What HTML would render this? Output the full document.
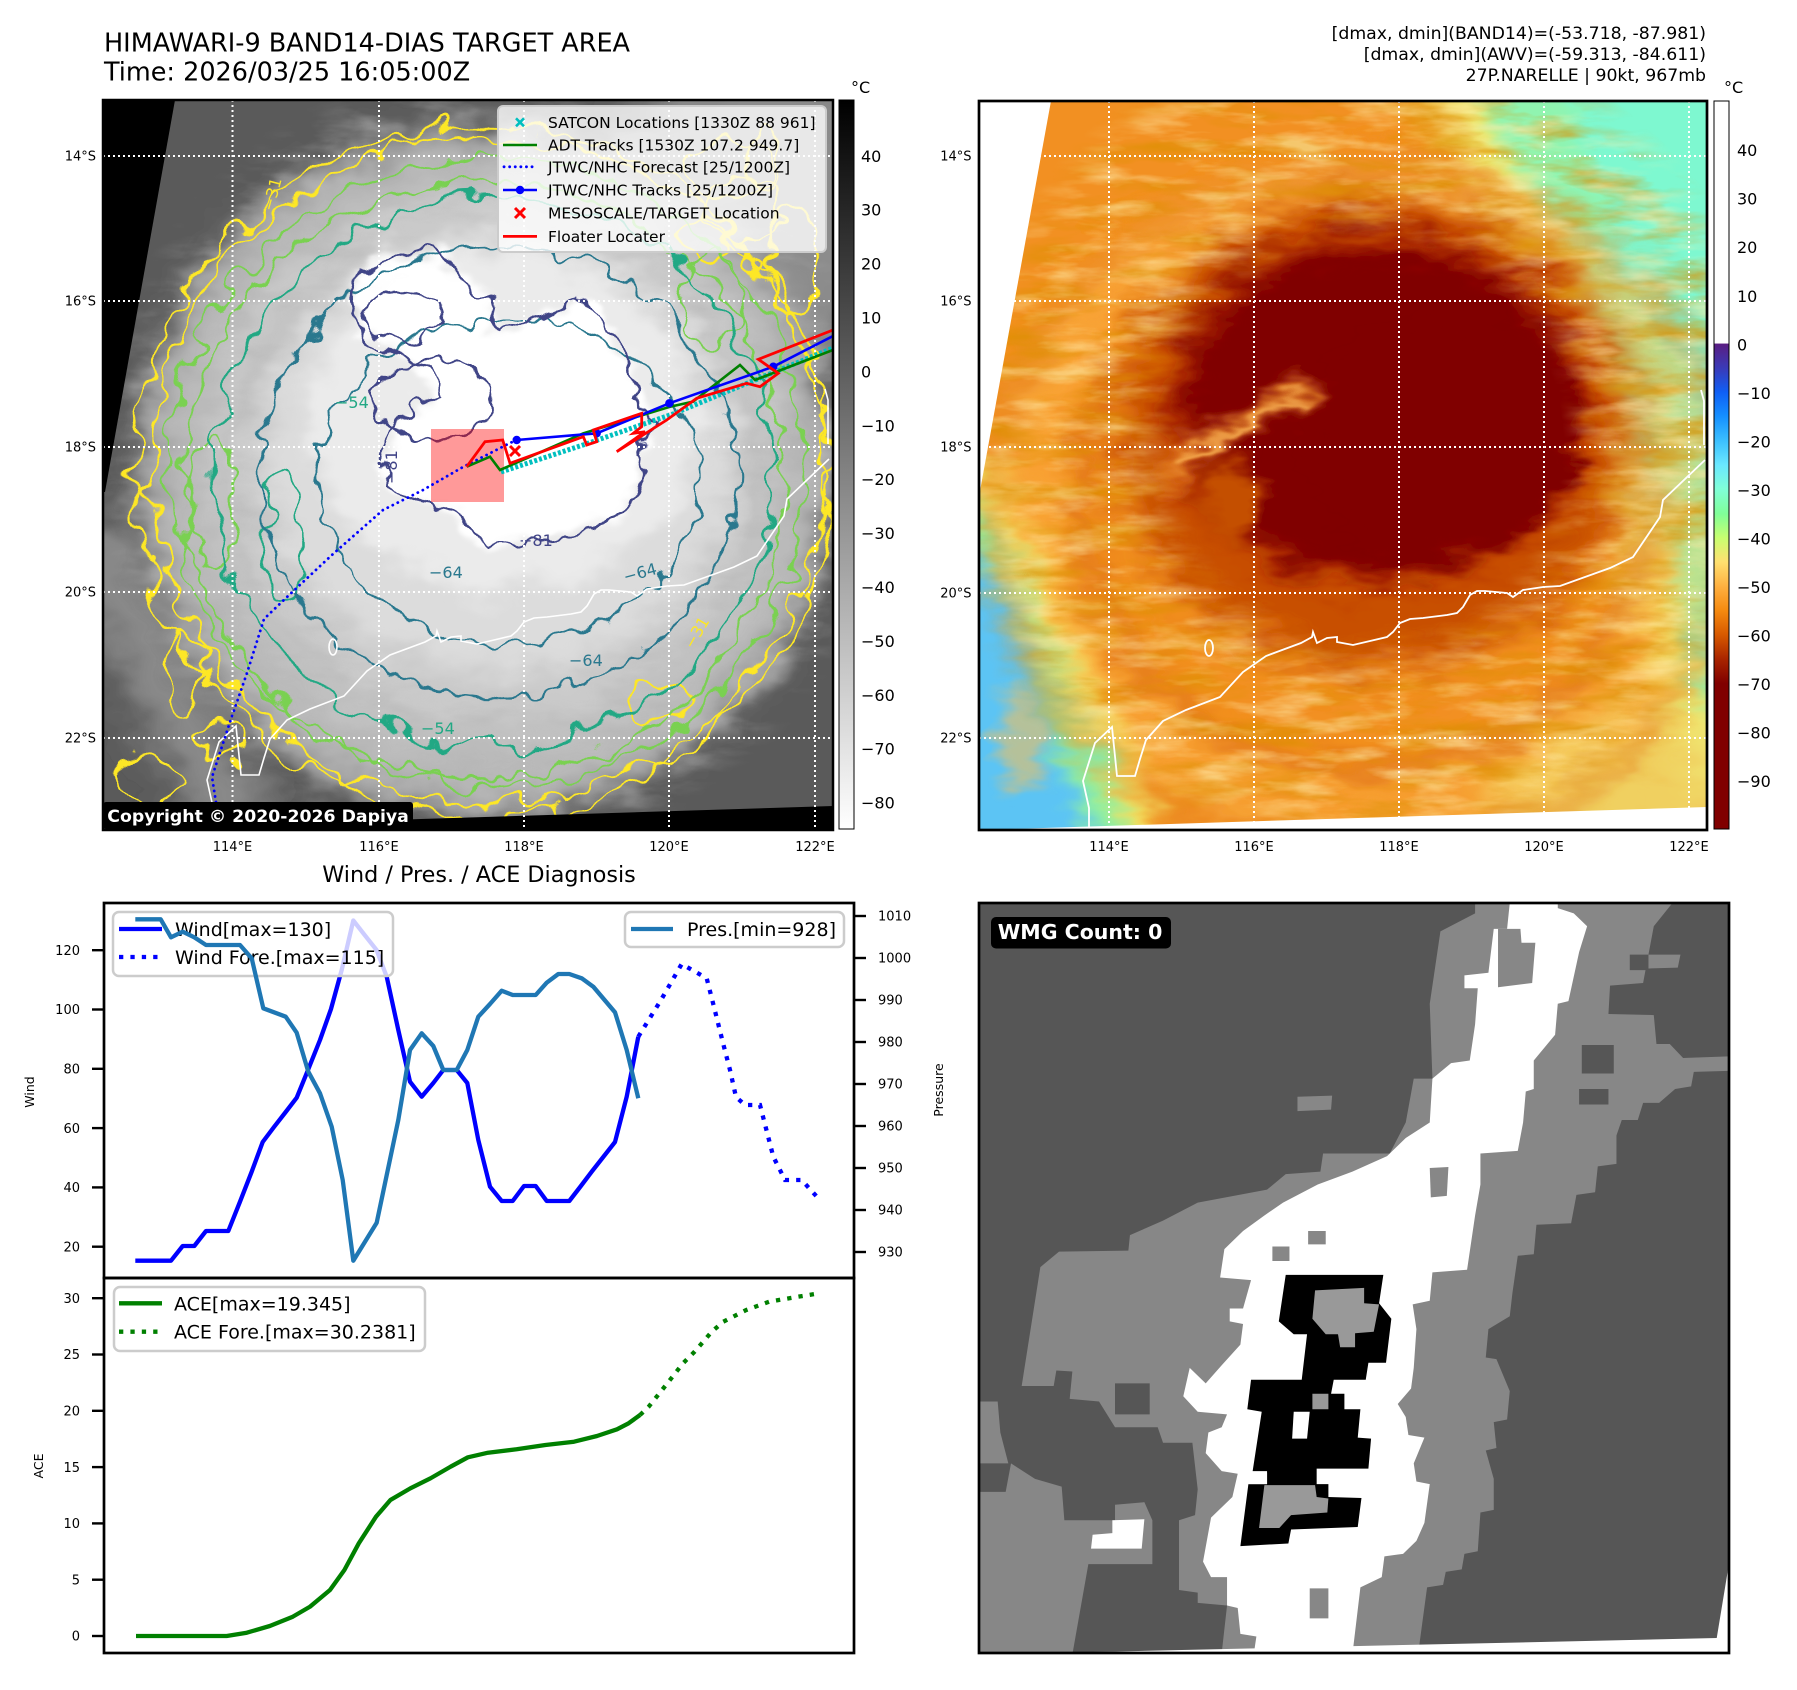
<!DOCTYPE html>
<html><head><meta charset="utf-8">
<style>
html,body{margin:0;padding:0;background:#fff;}
svg{display:block;font-family:"DejaVu Sans","Liberation Sans",sans-serif;}
</style></head>
<body>
<svg xmlns="http://www.w3.org/2000/svg" width="1797" height="1690" viewBox="0 0 1797 1690">
<defs>
  <clipPath id="clipL"><rect x="0" y="0" width="730" height="730"/></clipPath>
  <clipPath id="clipR"><rect x="0" y="0" width="728" height="729"/></clipPath>
  <filter id="bl4" x="-20%" y="-20%" width="140%" height="140%"><feGaussianBlur stdDeviation="4"/></filter>
  <filter id="bl8" x="-20%" y="-20%" width="140%" height="140%"><feGaussianBlur stdDeviation="8"/></filter>
  <filter id="bl12" x="-20%" y="-20%" width="140%" height="140%"><feGaussianBlur stdDeviation="12"/></filter>
  <filter id="bl18" x="-20%" y="-20%" width="140%" height="140%"><feGaussianBlur stdDeviation="18"/></filter>
  <filter id="bl25" x="-30%" y="-30%" width="160%" height="160%"><feGaussianBlur stdDeviation="25"/></filter>
  <filter id="dispL" x="-5%" y="-5%" width="110%" height="110%">
    <feTurbulence type="fractalNoise" baseFrequency="0.02 0.03" numOctaves="3" seed="7" result="t"/>
    <feDisplacementMap in="SourceGraphic" in2="t" scale="45" xChannelSelector="R" yChannelSelector="G"/>
  </filter>
  <filter id="dispR" x="-5%" y="-5%" width="110%" height="110%">
    <feTurbulence type="fractalNoise" baseFrequency="0.018 0.045" numOctaves="3" seed="4" result="t"/>
    <feDisplacementMap in="SourceGraphic" in2="t" scale="50" xChannelSelector="R" yChannelSelector="G"/>
  </filter>
  <filter id="streakDark" x="0" y="0" width="100%" height="100%">
    <feTurbulence type="fractalNoise" baseFrequency="0.012 0.05" numOctaves="4" seed="5"/>
    <feColorMatrix type="matrix" values="0 0 0 0 0.72  0 0 0 0 0.28  0 0 0 0 0  2.6 0 0 0 -1.15"/>
  </filter>
  <filter id="streakLight" x="0" y="0" width="100%" height="100%">
    <feTurbulence type="fractalNoise" baseFrequency="0.014 0.06" numOctaves="4" seed="12"/>
    <feColorMatrix type="matrix" values="0 0 0 0 1  0 0 0 0 0.85  0 0 0 0 0.42  2.6 0 0 0 -1.2"/>
  </filter>
  <filter id="streakGray" x="0" y="0" width="100%" height="100%">
    <feTurbulence type="fractalNoise" baseFrequency="0.014 0.05" numOctaves="4" seed="31"/>
    <feColorMatrix type="matrix" values="0 0 0 0 0.45  0 0 0 0 0.45  0 0 0 0 0.45  2.4 0 0 0 -1.15"/>
  </filter>
  <radialGradient id="ringGrad" gradientUnits="userSpaceOnUse" cx="390" cy="340" r="420">
    <stop offset="0" stop-color="#000"/>
    <stop offset="0.46" stop-color="#000"/>
    <stop offset="0.6" stop-color="#fff"/>
    <stop offset="0.88" stop-color="#fff"/>
    <stop offset="1" stop-color="#000"/>
  </radialGradient>
  <radialGradient id="ringGradL" gradientUnits="userSpaceOnUse" cx="390" cy="360" r="400">
    <stop offset="0" stop-color="#000"/>
    <stop offset="0.5" stop-color="#000"/>
    <stop offset="0.65" stop-color="#fff"/>
    <stop offset="0.9" stop-color="#fff"/>
    <stop offset="1" stop-color="#000"/>
  </radialGradient>
  <mask id="ringMask" maskUnits="userSpaceOnUse" x="-40" y="-40" width="810" height="810">
    <rect x="-40" y="-40" width="810" height="810" fill="url(#ringGrad)"/>
  </mask>
  <mask id="ringMaskL" maskUnits="userSpaceOnUse" x="-40" y="-40" width="810" height="810">
    <rect x="-40" y="-40" width="810" height="810" fill="url(#ringGradL)"/>
  </mask>
  <filter id="wig1" x="-10%" y="-10%" width="120%" height="120%">
    <feTurbulence type="fractalNoise" baseFrequency="0.03" numOctaves="2" seed="2" result="t"/>
    <feDisplacementMap in="SourceGraphic" in2="t" scale="42" xChannelSelector="R" yChannelSelector="G"/>
  </filter>
  <filter id="wig2" x="-10%" y="-10%" width="120%" height="120%">
    <feTurbulence type="fractalNoise" baseFrequency="0.035" numOctaves="2" seed="9" result="t"/>
    <feDisplacementMap in="SourceGraphic" in2="t" scale="38" xChannelSelector="R" yChannelSelector="G"/>
  </filter>
  <filter id="wig3" x="-10%" y="-10%" width="120%" height="120%">
    <feTurbulence type="fractalNoise" baseFrequency="0.04" numOctaves="2" seed="15" result="t"/>
    <feDisplacementMap in="SourceGraphic" in2="t" scale="30" xChannelSelector="R" yChannelSelector="G"/>
  </filter>
  <filter id="wig4" x="-10%" y="-10%" width="120%" height="120%">
    <feTurbulence type="fractalNoise" baseFrequency="0.05" numOctaves="2" seed="21" result="t"/>
    <feDisplacementMap in="SourceGraphic" in2="t" scale="22" xChannelSelector="R" yChannelSelector="G"/>
  </filter>
  <linearGradient id="cbGray" x1="0" y1="0" x2="0" y2="1">
    <stop offset="0" stop-color="#000"/><stop offset="1" stop-color="#fff"/>
  </linearGradient>
  <linearGradient id="cbJet" x1="0" y1="0" x2="0" y2="1">
    <stop offset="0" stop-color="#ffffff"/>
    <stop offset="0.333" stop-color="#ffffff"/>
    <stop offset="0.3335" stop-color="#5a1e82"/>
    <stop offset="0.367" stop-color="#3a3ab8"/>
    <stop offset="0.40" stop-color="#0f5ff5"/>
    <stop offset="0.433" stop-color="#1590ff"/>
    <stop offset="0.467" stop-color="#3cc0ff"/>
    <stop offset="0.50" stop-color="#6ae8ff"/>
    <stop offset="0.533" stop-color="#80ffd8"/>
    <stop offset="0.567" stop-color="#80ff98"/>
    <stop offset="0.60" stop-color="#c8ff70"/>
    <stop offset="0.633" stop-color="#ffe070"/>
    <stop offset="0.667" stop-color="#ffb040"/>
    <stop offset="0.70" stop-color="#f58a10"/>
    <stop offset="0.733" stop-color="#d85a00"/>
    <stop offset="0.767" stop-color="#a82400"/>
    <stop offset="0.80" stop-color="#800000"/>
    <stop offset="1" stop-color="#800000"/>
  </linearGradient>
</defs>

<rect x="0" y="0" width="1797" height="1690" fill="#fff"/>

<!-- Titles -->
<text x="104" y="51.6" font-size="25.5" fill="#000">HIMAWARI-9 BAND14-DIAS TARGET AREA</text>
<text x="104" y="80.4" font-size="25.5" fill="#000">Time: 2026/03/25 16:05:00Z</text>
<g font-size="17.3" fill="#000" text-anchor="end">
  <text x="1706" y="39">[dmax, dmin](BAND14)=(-53.718, -87.981)</text>
  <text x="1706" y="60">[dmax, dmin](AWV)=(-59.313, -84.611)</text>
  <text x="1706" y="81">27P.NARELLE | 90kt, 967mb</text>
</g>

<!-- ================= LEFT MAP ================= -->
<g transform="translate(103,100)">
 <g clip-path="url(#clipL)">
  <g filter="url(#dispL)">
    <rect x="-40" y="-40" width="810" height="810" fill="#5a5a5a"/>
    <ellipse cx="660" cy="110" rx="140" ry="170" fill="#8c8c8c" filter="url(#bl25)"/>
    <path d="M -20 430 Q 60 580 150 760" stroke="#8a8a8a" stroke-width="70" fill="none" filter="url(#bl18)"/>
    <ellipse cx="382" cy="372" rx="352" ry="348" fill="#a2a2a2" filter="url(#bl12)"/>
    <ellipse cx="385" cy="370" rx="325" ry="322" fill="#bababa" filter="url(#bl12)"/>
    <ellipse cx="390" cy="365" rx="285" ry="280" fill="#cacaca" filter="url(#bl12)"/>
    <ellipse cx="390" cy="380" rx="265" ry="252" fill="none" stroke="#b8b8b8" stroke-width="16" opacity="0.6" filter="url(#bl8)"/>
    <ellipse cx="395" cy="350" rx="235" ry="225" fill="#dcdcdc" filter="url(#bl12)"/>
    <ellipse cx="400" cy="320" rx="195" ry="170" fill="#ebebeb" filter="url(#bl8)"/>
    <path d="M277,360 L285,337 L297,320 L314,303 L337,295 L330,270 L300,255 L260,240 L247,200 L255,175 L299,155 L333,149 L356,177 L391,204 L396,231 L437,220 L477,198 L505,226 L528,269 L534,302 L554,320 L540,337 L534,353 L540,380 L529,397 L517,413 L494,427 L460,437 L420,443 L387,445 L367,433 L357,413 L337,407 L307,397 L287,387 Z" fill="#ffffff" filter="url(#bl4)"/>
  </g>
  <rect x="-40" y="-40" width="810" height="810" filter="url(#streakGray)" mask="url(#ringMaskL)" opacity="0.45"/>
  <!-- contours -->
  <g fill="none" stroke="#fde725" stroke-width="2.6" filter="url(#wig1)">
    <ellipse cx="380" cy="372" rx="348" ry="345"/>
    <ellipse cx="630" cy="70" rx="45" ry="28"/>
    <ellipse cx="690" cy="160" rx="25" ry="55"/>
    <ellipse cx="600" cy="140" rx="30" ry="20"/>
    <ellipse cx="660" cy="60" rx="20" ry="35"/>
    <ellipse cx="80" cy="570" rx="18" ry="40"/>
    <ellipse cx="45" cy="680" rx="30" ry="20"/>
    <ellipse cx="560" cy="600" rx="35" ry="20"/>
  </g>
  <g fill="none" stroke="#fde725" stroke-width="2.6" filter="url(#wig2)">
    <ellipse cx="385" cy="370" rx="336" ry="334"/>
    <ellipse cx="640" cy="110" rx="40" ry="30"/>
    <ellipse cx="120" cy="640" rx="25" ry="18"/>
  </g>
  <g fill="none" stroke="#7ad151" stroke-width="2.6" filter="url(#wig2)">
    <ellipse cx="385" cy="372" rx="318" ry="315"/>
    <ellipse cx="110" cy="400" rx="22" ry="70"/>
    <ellipse cx="610" cy="200" rx="30" ry="45"/>
  </g>
  <g fill="none" stroke="#7ad151" stroke-width="2.6" filter="url(#wig3)">
    <ellipse cx="380" cy="380" rx="300" ry="298"/>
  </g>
  <g fill="none" stroke="#22a884" stroke-width="2.6" filter="url(#wig1)">
    <ellipse cx="390" cy="372" rx="280" ry="274"/>
    <ellipse cx="180" cy="440" rx="20" ry="60"/>
  </g>
  <g fill="none" stroke="#2a788e" stroke-width="2.6" filter="url(#wig3)">
    <ellipse cx="395" cy="372" rx="238" ry="226"/>
    <ellipse cx="405" cy="380" rx="190" ry="162"/>
  </g>
  <g fill="none" stroke="#414487" stroke-width="2.6" filter="url(#wig4)">
    <path d="M277,360 L285,337 L297,320 L314,303 L337,295 L330,270 L300,255 L260,240 L247,200 L255,175 L299,155 L333,149 L356,177 L391,204 L396,231 L437,220 L477,198 L505,226 L528,269 L534,302 L554,320 L540,337 L534,353 L540,380 L529,397 L517,413 L494,427 L460,437 L420,443 L387,445 L367,433 L357,413 L337,407 L307,397 L287,387 Z"/>
    <ellipse cx="300" cy="215" rx="40" ry="25"/>
    <ellipse cx="330" cy="300" rx="60" ry="40"/>
  </g>
  <!-- contour labels -->
  <g font-size="16">
    <text x="0" y="0" fill="#414487" transform="translate(294,384) rotate(-90)">−81</text>
    <text x="416" y="446" fill="#414487">−81</text>
    <text x="326" y="478" fill="#2a788e">−64</text>
    <text x="520" y="478" fill="#2a788e" transform="rotate(-15 538 472)">−64</text>
    <text x="466" y="566" fill="#2a788e">−64</text>
    <text x="318" y="634" fill="#22a884">−54</text>
    <text x="232" y="308" fill="#22a884">−54</text>
    <text x="0" y="0" fill="#fde725" transform="translate(590,550) rotate(-60)">−31</text>
    <text x="0" y="0" fill="#fde725" transform="translate(170,112) rotate(-75)">−31</text>
  </g>
  <!-- coastline -->
  <g fill="none" stroke="#fff" stroke-width="1.6">
    <path d="M726 359 L684 399 L681 416 L654 456 L631 467 L581 485 L564 486 L544 489 L534 496 L528 492 L506 490 L498 490 L491 494 L484 506 L478 512 L468 514 L444 517 L431 518 L421 522 L414 531 L408 536 L391 540 L374 544 L358 541 L358 536 L348 537 L338 542 L334 531 L333 536 L322 542 L287 555 L264 571 L241 596 L207 609 L184 620 L167 639 L161 658 L156 675 L138 675 L133 626 L116 642 L104 680 L110 707 L110 729"/>
    <path d="M722 289 L725 300 L725 344"/>
    <ellipse cx="230" cy="547" rx="4" ry="8"/>
  </g>
  <!-- black no-data wedges -->
  <polygon points="0,0 72,0 2,392 0,392" fill="#000"/>
  <polygon points="0,730 0,729 730,706 730,730" fill="#000"/>
  <!-- gridlines -->
  <g stroke="#fff" stroke-width="2" stroke-dasharray="2 3" fill="none">
    <line x1="129.5" y1="0" x2="129.5" y2="730"/>
    <line x1="276" y1="0" x2="276" y2="730"/>
    <line x1="421" y1="0" x2="421" y2="730"/>
    <line x1="566" y1="0" x2="566" y2="730"/>
    <line x1="712" y1="0" x2="712" y2="730"/>
    <line x1="0" y1="56" x2="730" y2="56"/>
    <line x1="0" y1="201" x2="730" y2="201"/>
    <line x1="0" y1="347" x2="730" y2="347"/>
    <line x1="0" y1="492" x2="730" y2="492"/>
    <line x1="0" y1="638" x2="730" y2="638"/>
  </g>
  <!-- target square -->
  <rect x="328" y="329" width="73" height="73" fill="#ff0000" opacity="0.4"/>
  <!-- tracks -->
  <path d="M413.7 340 L407 343 L360 367 L320 390 L280 410 L230 454 L184 497 L161 519 L144 573 L127 622 L109 677 L115 715 L118 730" fill="none" stroke="#0000ff" stroke-width="2.8" stroke-dasharray="0.1 5.5" stroke-linecap="round"/>
  <path d="M398 372 L480 345 L570 314 L640 285 L730 248" fill="none" stroke="#00bfbf" stroke-width="5" stroke-dasharray="3 2"/>
  <path d="M363.7 366.7 L387 356.7 L397 370 L480.3 333.3 L567 306.7 L590 301.7 L637 265 L652 280 L730 250" fill="none" stroke="#008000" stroke-width="2.6"/>
  <path d="M413.7 340 L493.7 333.3 L566.3 303.3 L670.3 266.7 L730 236" fill="none" stroke="#0000ff" stroke-width="2.6"/>
  <g fill="#0000ff"><circle cx="413.7" cy="340" r="4.2"/><circle cx="493.7" cy="333.3" r="4.2"/><circle cx="566.3" cy="303.3" r="4.2"/><circle cx="670.3" cy="266.7" r="4.2"/></g>
  <path d="M363.7 366.7 L382 341.7 L399.7 340 L407 363.3 L480.3 336.7 L483.7 345 L493.7 341.7 L490.3 330 L538.7 313.3 L538.7 326.7 L530.3 333.3 L542 331.7 L513.7 351.7 L563.7 320 L593.7 298.3 L643.7 283.3 L657 286.7 L675.3 273.3 L655.3 259.3 L730 230" fill="none" stroke="#ff0000" stroke-width="2.8" stroke-linejoin="miter"/>
  <g stroke="#ff0000" stroke-width="3"><line x1="407" y1="346" x2="417" y2="356"/><line x1="417" y1="346" x2="407" y2="356"/></g>
  <!-- legend -->
  <rect x="395" y="6" width="328" height="146" rx="5" fill="#fff" fill-opacity="0.8" stroke="#cccccc" stroke-width="2"/>
  <g stroke="#00bfbf" stroke-width="2.6"><line x1="413" y1="18.3" x2="421" y2="26.3"/><line x1="421" y1="18.3" x2="413" y2="26.3"/></g>
  <line x1="400" y1="45" x2="434" y2="45" stroke="#008000" stroke-width="2.6"/>
  <line x1="401" y1="66.8" x2="434" y2="66.8" stroke="#0000ff" stroke-width="2.8" stroke-dasharray="0.1 5.5" stroke-linecap="round"/>
  <line x1="400" y1="90" x2="434" y2="90" stroke="#0000ff" stroke-width="2.6"/>
  <circle cx="417" cy="90" r="4.2" fill="#0000ff"/>
  <g stroke="#ff0000" stroke-width="3"><line x1="412" y1="108" x2="422" y2="118"/><line x1="422" y1="108" x2="412" y2="118"/></g>
  <line x1="400" y1="136.4" x2="434" y2="136.4" stroke="#ff0000" stroke-width="2.8"/>
  <g font-size="15.5" fill="#000">
    <text x="445" y="27.9">SATCON Locations [1330Z 88 961]</text>
    <text x="445" y="50.6">ADT Tracks [1530Z 107.2 949.7]</text>
    <text x="445" y="72.4">JTWC/NHC Forecast [25/1200Z]</text>
    <text x="445" y="95.6">JTWC/NHC Tracks [25/1200Z]</text>
    <text x="445" y="118.6">MESOSCALE/TARGET Location</text>
    <text x="445" y="142">Floater Locater</text>
  </g>
  <!-- copyright -->
  <rect x="0" y="702" width="310" height="27" rx="3" fill="#000"/>
  <text x="4.3" y="722" font-size="17.3" font-weight="bold" fill="#fff">Copyright © 2020-2026 Dapiya</text>
 </g>
 <rect x="0" y="0" width="730" height="730" fill="none" stroke="#000" stroke-width="2.5"/>
</g>

<!-- left colorbar -->
<rect x="839" y="100" width="15" height="729" fill="url(#cbGray)" stroke="#000" stroke-width="1"/>
<text x="851" y="93" font-size="16">°C</text>
<g font-size="16" fill="#000">
  <text x="861" y="161.8">40</text>
  <text x="861" y="215.7">30</text>
  <text x="861" y="269.6">20</text>
  <text x="861" y="323.5">10</text>
  <text x="861" y="377.4">0</text>
  <text x="861" y="431.3">−10</text>
  <text x="861" y="485.2">−20</text>
  <text x="861" y="539.1">−30</text>
  <text x="861" y="593">−40</text>
  <text x="861" y="646.9">−50</text>
  <text x="861" y="700.8">−60</text>
  <text x="861" y="754.7">−70</text>
  <text x="861" y="808.6">−80</text>
</g>
<!-- left map tick labels -->
<g font-size="13" fill="#000">
  <g text-anchor="end">
    <text x="96" y="160.5">14°S</text>
    <text x="96" y="305.5">16°S</text>
    <text x="96" y="451.5">18°S</text>
    <text x="96" y="596.5">20°S</text>
    <text x="96" y="742.5">22°S</text>
  </g>
  <g text-anchor="middle">
    <text x="232.5" y="851">114°E</text>
    <text x="379" y="851">116°E</text>
    <text x="524" y="851">118°E</text>
    <text x="669" y="851">120°E</text>
    <text x="815" y="851">122°E</text>
  </g>
</g>

<!-- ================= RIGHT MAP ================= -->
<g transform="translate(979,101)">
 <g clip-path="url(#clipR)">
  <g filter="url(#dispR)">
    <rect x="-40" y="-40" width="810" height="810" fill="#f29020"/>
    <!-- bottom-left cool region -->
    <polygon points="-40,330 30,380 90,500 150,640 200,770 -40,770" fill="#f4e060" filter="url(#bl12)"/>
    <polygon points="-40,380 25,420 70,520 120,650 160,770 -40,770" fill="#90f0a0" filter="url(#bl12)"/>
    <polygon points="-40,430 12,470 50,560 95,680 120,770 -40,770" fill="#5cc4f4" filter="url(#bl12)"/>
    <ellipse cx="45" cy="640" rx="25" ry="50" fill="#f0c060" opacity="0.6" filter="url(#bl8)"/>
    <!-- top-right cool region -->
    <polygon points="430,-40 770,-40 770,720 700,660 660,530 640,400 600,280 540,160 480,60" fill="#f0e870" filter="url(#bl18)"/>
    <polygon points="490,-40 770,-40 770,640 715,580 690,450 660,330 615,210 555,100 515,20" fill="#90f4b0" filter="url(#bl12)"/>
    <polygon points="570,-40 770,-40 770,500 725,380 690,250 630,120" fill="#7ef8d0" filter="url(#bl12)"/>
    <ellipse cx="650" cy="690" rx="140" ry="80" fill="#f0e070" opacity="0.8" filter="url(#bl25)"/>
    <!-- bands -->
    <ellipse cx="380" cy="390" rx="315" ry="300" fill="none" stroke="#ffb347" stroke-width="36" opacity="0.55" filter="url(#bl12)"/>
    <ellipse cx="380" cy="400" rx="350" ry="330" fill="none" stroke="#ffc860" stroke-width="26" opacity="0.45" filter="url(#bl12)"/>
    <ellipse cx="385" cy="400" rx="285" ry="270" fill="none" stroke="#d46010" stroke-width="24" opacity="0.5" filter="url(#bl12)"/>
    <ellipse cx="385" cy="410" rx="370" ry="345" fill="none" stroke="#e07018" stroke-width="22" opacity="0.45" filter="url(#bl12)"/>
    <ellipse cx="395" cy="330" rx="258" ry="238" fill="#c85000" filter="url(#bl18)"/>
    <ellipse cx="398" cy="305" rx="210" ry="178" fill="#9a1800" filter="url(#bl12)"/>
    <ellipse cx="400" cy="310" rx="190" ry="160" fill="#800000" filter="url(#bl8)"/>
    <ellipse cx="470" cy="340" rx="130" ry="115" fill="#800000" filter="url(#bl8)"/>
    <path d="M185 385 C 225 335 280 305 340 290" fill="none" stroke="#e8862a" stroke-width="24" opacity="0.9" filter="url(#bl8)"/>
    <path d="M198 372 C 236 332 282 310 330 298" fill="none" stroke="#ffc060" stroke-width="8" opacity="0.8" filter="url(#bl4)"/>
    <ellipse cx="250" cy="400" rx="30" ry="42" fill="#c45000" filter="url(#bl8)"/>
  </g>
  <!-- streak textures -->
  <rect x="-40" y="-40" width="810" height="810" filter="url(#streakDark)" mask="url(#ringMask)" opacity="0.7"/>
  <rect x="-40" y="-40" width="810" height="810" filter="url(#streakLight)" mask="url(#ringMask)" opacity="0.6"/>
  <!-- coastline -->
  <g fill="none" stroke="#fff" stroke-width="1.8">
    <path d="M726 359 L684 399 L681 416 L654 456 L631 467 L581 485 L564 486 L544 489 L534 496 L528 492 L506 490 L498 490 L491 494 L484 506 L478 512 L468 514 L444 517 L431 518 L421 522 L414 531 L408 536 L391 540 L374 544 L358 541 L358 536 L348 537 L338 542 L334 531 L333 536 L322 542 L287 555 L264 571 L241 596 L207 609 L184 620 L167 639 L161 658 L156 675 L138 675 L133 626 L116 642 L104 680 L110 707 L110 729"/>
    <path d="M722 289 L725 300 L725 344"/>
    <ellipse cx="230" cy="547" rx="4" ry="8"/>
  </g>
  <polygon points="0,0 72,0 1,390 0,390" fill="#fff"/>
  <polygon points="0,729 728,706 728,729" fill="#fff"/>
  <g stroke="#fff" stroke-width="2" stroke-dasharray="2 3" fill="none">
    <line x1="130" y1="0" x2="130" y2="729"/>
    <line x1="275" y1="0" x2="275" y2="729"/>
    <line x1="420" y1="0" x2="420" y2="729"/>
    <line x1="565" y1="0" x2="565" y2="729"/>
    <line x1="710" y1="0" x2="710" y2="729"/>
    <line x1="0" y1="55" x2="728" y2="55"/>
    <line x1="0" y1="200" x2="728" y2="200"/>
    <line x1="0" y1="346" x2="728" y2="346"/>
    <line x1="0" y1="492" x2="728" y2="492"/>
    <line x1="0" y1="637" x2="728" y2="637"/>
  </g>
 </g>
 <rect x="0" y="0" width="728" height="729" fill="none" stroke="#000" stroke-width="2.7"/>
</g>

<!-- right colorbar -->
<rect x="1714" y="101" width="15" height="728" fill="url(#cbJet)" stroke="#000" stroke-width="1"/>
<text x="1724" y="93" font-size="16">°C</text>
<g font-size="16" fill="#000">
  <text x="1737" y="156.2">40</text>
  <text x="1737" y="204.7">30</text>
  <text x="1737" y="253.2">20</text>
  <text x="1737" y="301.8">10</text>
  <text x="1737" y="350.3">0</text>
  <text x="1737" y="398.8">−10</text>
  <text x="1737" y="447.3">−20</text>
  <text x="1737" y="495.9">−30</text>
  <text x="1737" y="544.4">−40</text>
  <text x="1737" y="593">−50</text>
  <text x="1737" y="641.5">−60</text>
  <text x="1737" y="690">−70</text>
  <text x="1737" y="738.5">−80</text>
  <text x="1737" y="787.1">−90</text>
</g>
<g font-size="13" fill="#000">
  <g text-anchor="end">
    <text x="971.5" y="160.5">14°S</text>
    <text x="971.5" y="305.5">16°S</text>
    <text x="971.5" y="451.5">18°S</text>
    <text x="971.5" y="597.5">20°S</text>
    <text x="971.5" y="742.5">22°S</text>
  </g>
  <g text-anchor="middle">
    <text x="1109" y="851">114°E</text>
    <text x="1254" y="851">116°E</text>
    <text x="1399" y="851">118°E</text>
    <text x="1544" y="851">120°E</text>
    <text x="1689" y="851">122°E</text>
  </g>
</g>

<!-- ================= WIND / PRES CHART ================= -->
<text x="479" y="882" font-size="22.3" text-anchor="middle">Wind / Pres. / ACE Diagnosis</text>

<!-- wind lines -->
<path d="M135.3,1260.7 L171,1260.7 L182.7,1246 L194.3,1246 L206,1231 L228.3,1231 L240,1201.7 L251.7,1171.7 L262.7,1142 L274,1127 L285.7,1112 L296.7,1097.7 L307.3,1071.7 L320,1040 L331,1009 L341.7,970 L353.3,920.5 L365,935.4 L376.7,950.2 L386.7,976.7 L398.3,1030 L410,1081.7 L421.7,1096.7 L433.3,1083 L443.3,1070 L456.7,1070 L467.3,1083 L478.3,1140 L490,1186.7 L501.7,1201 L512.7,1201 L524,1186 L535.7,1186 L546.7,1201 L569.3,1201 L580.5,1186.5 L591.7,1171.7 L615,1142 L626.7,1096.7 L638.3,1036.7" fill="none" stroke="#0000ff" stroke-width="4.3" stroke-linejoin="round"/>
<path d="M638.3,1036.7 L661,1000 L681.7,964 L693.3,970.7 L706.7,978.3 L713,1003 L723,1043 L730,1070 L736,1097 L745,1105 L760,1105 L773.3,1156.7 L785,1180 L801.7,1180 L818.3,1198.3" fill="none" stroke="#0000ff" stroke-width="4.3" stroke-dasharray="4.3 7.1"/>
<!-- wind legend -->
<rect x="113" y="912" width="280" height="64" rx="6" fill="#fff" fill-opacity="0.8" stroke="#cccccc" stroke-width="2.5"/>
<line x1="119" y1="929" x2="162" y2="929" stroke="#0000ff" stroke-width="4.3"/>
<line x1="119" y1="957" x2="162" y2="957" stroke="#0000ff" stroke-width="4.3" stroke-dasharray="4.3 7.1"/>
<text x="175" y="936" font-size="19">Wind[max=130]</text>
<text x="175" y="964" font-size="19">Wind Fore.[max=115]</text>
<!-- pressure line -->
<path d="M135.3,919.3 L160.7,919.3 L171,937.3 L182.7,931.7 L194.3,937.3 L206,945 L240,945 L251.7,958.3 L263.3,1008.3 L285.7,1016.7 L296.7,1032.7 L308.3,1071.7 L320,1093.3 L331.7,1126.7 L342.7,1180 L353.3,1260.7 L365,1241.7 L376.7,1222.7 L398.3,1120 L410,1050 L421.7,1033.3 L433.3,1046 L443.3,1070 L456.7,1070 L467.3,1050 L478.3,1016.7 L490,1004 L501.7,990.7 L512.7,995 L535.7,995 L546.7,982.7 L558.3,974 L569.3,974 L581.7,978.3 L593.3,986.7 L615,1012.3 L626.7,1050 L638.3,1098.3" fill="none" stroke="#1f77b4" stroke-width="4.3" stroke-linejoin="round"/>
<!-- pres legend -->
<rect x="625" y="912" width="219" height="35" rx="6" fill="#fff" fill-opacity="0.8" stroke="#cccccc" stroke-width="2.5"/>
<line x1="631" y1="929" x2="673" y2="929" stroke="#1f77b4" stroke-width="4.3"/>
<text x="687" y="936" font-size="19">Pres.[min=928]</text>

<!-- upper axes frame -->
<rect x="104" y="903" width="750" height="375" fill="none" stroke="#000" stroke-width="2.7"/>
<!-- wind ticks -->
<g stroke="#000" stroke-width="2.4">
  <line x1="92" y1="950.2" x2="104" y2="950.2"/>
  <line x1="92" y1="1009.5" x2="104" y2="1009.5"/>
  <line x1="92" y1="1068.8" x2="104" y2="1068.8"/>
  <line x1="92" y1="1128.1" x2="104" y2="1128.1"/>
  <line x1="92" y1="1187.4" x2="104" y2="1187.4"/>
  <line x1="92" y1="1246.7" x2="104" y2="1246.7"/>
</g>
<g font-size="13" text-anchor="end">
  <text x="80" y="954.9">120</text>
  <text x="80" y="1014.2">100</text>
  <text x="80" y="1073.5">80</text>
  <text x="80" y="1132.8">60</text>
  <text x="80" y="1192.1">40</text>
  <text x="80" y="1251.4">20</text>
</g>
<text x="0" y="0" font-size="12.5" text-anchor="middle" transform="translate(34,1092) rotate(-90)">Wind</text>
<!-- pressure ticks -->
<g stroke="#000" stroke-width="2.4">
  <line x1="854" y1="916" x2="866" y2="916"/>
  <line x1="854" y1="958" x2="866" y2="958"/>
  <line x1="854" y1="1000" x2="866" y2="1000"/>
  <line x1="854" y1="1042" x2="866" y2="1042"/>
  <line x1="854" y1="1084" x2="866" y2="1084"/>
  <line x1="854" y1="1126" x2="866" y2="1126"/>
  <line x1="854" y1="1168" x2="866" y2="1168"/>
  <line x1="854" y1="1210" x2="866" y2="1210"/>
  <line x1="854" y1="1252" x2="866" y2="1252"/>
</g>
<g font-size="13">
  <text x="878" y="920.7">1010</text>
  <text x="878" y="962.7">1000</text>
  <text x="878" y="1004.7">990</text>
  <text x="878" y="1046.7">980</text>
  <text x="878" y="1088.7">970</text>
  <text x="878" y="1130.7">960</text>
  <text x="878" y="1172.7">950</text>
  <text x="878" y="1214.7">940</text>
  <text x="878" y="1256.7">930</text>
</g>
<text x="0" y="0" font-size="12.5" text-anchor="middle" transform="translate(943,1090) rotate(-90)">Pressure</text>

<!-- ================= ACE CHART ================= -->
<path d="M136,1636 L226.7,1636 L246.8,1632.7 L269.8,1626 L292.8,1616.7 L310,1606.7 L330,1590 L344.4,1570 L358.8,1543.3 L376,1516.7 L390.4,1500 L410.4,1488.3 L430.5,1478.3 L450.6,1466.7 L467.9,1457.3 L488,1452.7 L516.6,1449.3 L545.4,1445 L574,1441.7 L597,1436 L617,1429.3 L628.6,1423.3 L640,1415" fill="none" stroke="#008000" stroke-width="4.3" stroke-linejoin="round"/>
<path d="M640,1415 L648.7,1406.7 L666,1385 L683,1363.3 L694.6,1351.7 L711.8,1331.7 L723.3,1321.7 L746.3,1310 L769.2,1301.7 L798,1296.7 L815,1294" fill="none" stroke="#008000" stroke-width="4.3" stroke-dasharray="4.3 7.1"/>
<rect x="114" y="1287" width="311" height="64" rx="6" fill="#fff" fill-opacity="0.8" stroke="#cccccc" stroke-width="2.5"/>
<line x1="119" y1="1303.3" x2="162" y2="1303.3" stroke="#008000" stroke-width="4.3"/>
<line x1="119" y1="1331.7" x2="162" y2="1331.7" stroke="#008000" stroke-width="4.3" stroke-dasharray="4.3 7.1"/>
<text x="174" y="1310.3" font-size="19">ACE[max=19.345]</text>
<text x="174" y="1338.7" font-size="19">ACE Fore.[max=30.2381]</text>
<rect x="104" y="1278" width="750" height="375" fill="none" stroke="#000" stroke-width="2.7"/>
<g stroke="#000" stroke-width="2.4">
  <line x1="92" y1="1636" x2="104" y2="1636"/>
  <line x1="92" y1="1579.7" x2="104" y2="1579.7"/>
  <line x1="92" y1="1523.4" x2="104" y2="1523.4"/>
  <line x1="92" y1="1467.1" x2="104" y2="1467.1"/>
  <line x1="92" y1="1410.8" x2="104" y2="1410.8"/>
  <line x1="92" y1="1354.5" x2="104" y2="1354.5"/>
  <line x1="92" y1="1298.2" x2="104" y2="1298.2"/>
</g>
<g font-size="13" text-anchor="end">
  <text x="80" y="1640.7">0</text>
  <text x="80" y="1584.4">5</text>
  <text x="80" y="1528.1">10</text>
  <text x="80" y="1471.8">15</text>
  <text x="80" y="1415.5">20</text>
  <text x="80" y="1359.2">25</text>
  <text x="80" y="1302.9">30</text>
</g>
<text x="0" y="0" font-size="12.5" text-anchor="middle" transform="translate(43,1466) rotate(-90)">ACE</text>

<!-- ================= WMG PANEL ================= -->
<svg x="979" y="903" width="750" height="750" viewBox="35 45 1406 1452" preserveAspectRatio="none">
  <rect x="35" y="45" width="1406" height="1452" fill="#565656"/>
  <polygon fill="#878787" points="965,45 1335,45 1300,90 1290,145 1350,145 1345,170 1285,172 1280,200 1218,205 1215,260 1300,262 1305,318 1330,318 1355,345 1440,342 1440,370 1375,372 1370,400 1340,405 1310,432 1280,432 1270,465 1240,465 1230,495 1230,550 1195,555 1190,605 1155,610 1145,665 1080,668 1075,725 1045,728 1035,800 1030,845 990,870 985,925 1005,928 1030,990 1025,1045 1000,1050 1005,1100 985,1105 1000,1160 1000,1220 975,1225 970,1300 945,1305 940,1335 910,1340 905,1365 875,1370 860,1485 490,1497 500,1405 445,1400 445,1380 410,1375 410,1240 440,1230 445,1180 435,1090 380,1090 370,1060 290,1060 260,1010 205,1005 210,952 180,950 175,980 115,980 150,750 185,720 315,718 318,688 380,660 445,625 575,600 610,570 675,565 680,530 805,530 835,470 850,385 885,385 880,240 900,100 965,65"/>
  <polygon fill="#878787" points="35,1185 85,1185 95,1130 140,1160 190,1175 195,1240 290,1240 290,1210 345,1205 360,1240 360,1325 240,1325 210,1500 35,1500"/>
  <polygon fill="#878787" points="35,1010 70,1010 75,1070 90,1130 35,1130"/>
  <polygon fill="#878787" points="632,420 697,418 695,445 632,448"/>
  <polygon fill="#565656" points="290,975 355,975 355,1035 290,1035"/>
  <polygon fill="#565656" points="1255,145 1290,145 1290,175 1255,175"/>
  <polygon fill="#565656" points="1165,320 1225,320 1225,375 1165,375"/>
  <polygon fill="#565656" points="1160,405 1215,405 1215,435 1160,435"/>
  <!-- white band -->
  <polygon fill="#ffffff" points="1030,45 1025,95 1000,95 990,180 945,185 945,210 970,210 965,280 955,350 920,355 885,385 880,470 835,500 800,535 735,565 670,590 605,625 570,650 530,680 495,715 487,770 545,775 530,830 505,830 505,855 530,860 525,900 490,940 460,975 430,945 418,1000 445,1030 500,1035 490,1060 465,1070 460,1110 490,1145 520,1150 510,1195 470,1235 455,1320 470,1350 500,1350 500,1405 520,1410 525,1460 555,1465 550,1500 735,1500 750,1370 790,1350 795,1310 830,1305 855,1280 870,1245 880,1170 855,1165 850,1130 870,1080 840,1075 835,1040 820,1015 845,985 850,945 855,870 848,822 880,815 885,760 950,755 965,650 975,590 975,530 1045,525 1055,470 1060,410 1075,405 1075,350 1115,300 1120,240 1140,235 1160,140 1175,90 1150,65 1120,55 1120,45"/>
  <polygon fill="#878787" points="1008,95 1050,95 1052,122 1078,122 1072,200 1008,208"/>
  <polygon fill="#878787" points="880,558 915,556 912,612 882,615"/>
  <polygon fill="#878787" points="652,680 685,680 685,706 652,706"/>
  <polygon fill="#878787" points="585,710 617,710 617,738 585,738"/>
  <polygon fill="#878787" points="655,1372 690,1372 690,1430 655,1430"/>
  <!-- black core -->
  <polygon fill="#000000" points="610,765 793,765 785,820 808,850 798,935 765,935 760,968 700,968 695,995 720,995 720,1025 750,1025 745,1080 770,1082 765,1140 668,1140 668,1170 690,1170 690,1195 752,1197 745,1253 620,1258 615,1285 525,1290 540,1170 575,1170 575,1145 548,1145 565,1030 538,1025 545,968 640,968 650,880 625,880 597,855"/>
  <polygon fill="#999999" points="665,795 757,790 757,820 785,822 775,875 740,878 740,905 712,905 708,880 685,880 660,850"/>
  <polygon fill="#999999" points="660,995 690,995 690,1025 660,1025"/>
  <polygon fill="#ffffff" points="625,1030 655,1030 650,1082 622,1082"/>
  <polygon fill="#999999" points="570,1172 665,1172 668,1195 690,1198 688,1225 620,1230 598,1255 560,1255"/>
  <polygon fill="#ffffff" points="540,1148 575,1148 575,1170 540,1170"/>
  <polygon fill="#ffffff" points="285,1240 345,1238 340,1295 245,1295 248,1268 285,1265"/>
  <!-- no-data wedge -->
  <polygon fill="#ffffff" points="35,1500 1418,1468 1440,1330 1445,1500"/>
</svg>
<rect x="979" y="903" width="750" height="750" fill="none" stroke="#000" stroke-width="2.7"/>
<rect x="991" y="917" width="180" height="31.5" rx="5" fill="#000"/>
<text x="997.7" y="939" font-size="20.5" font-weight="bold" fill="#fff">WMG Count: 0</text>
</svg>
</body></html>
